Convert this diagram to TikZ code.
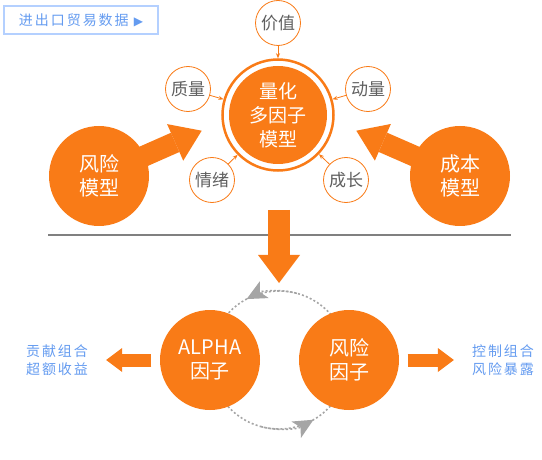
\documentclass[tikz,border=0pt]{standalone}
\usepackage{fontspec}
\setmainfont{Noto Sans CJK SC}
\newfontfamily\spacedfont[LetterSpace=14]{Noto Sans CJK SC}
\newfontfamily\symfont{DejaVu Sans}
\usetikzlibrary{arrows.meta, backgrounds}

\definecolor{factororange}{RGB}{249,123,23}
\definecolor{labelgrey}{RGB}{95,95,95}
\definecolor{noteblue}{RGB}{100,155,240}
\definecolor{tagblue}{RGB}{180,208,255}
\definecolor{cyclegrey}{RGB}{165,165,165}
\definecolor{rulegrey}{RGB}{128,128,128}

\begin{document}
\begin{tikzpicture}[
    x=1pt, y=-1pt,
    >=Stealth,
    every node/.style={font=\fontsize{17}{20}\selectfont},
    smallfactor/.style={circle, draw=factororange, line width=0.8pt, fill=white,
        minimum size=45pt, inner sep=0pt, text=labelgrey},
    bigmodel/.style={circle, fill=factororange, minimum size=100pt, inner sep=0pt,
        text=white, align=center, font=\fontsize{20}{24}\selectfont},
    feed/.style={draw=factororange, line width=0.8pt, -{Stealth[length=5pt,width=4pt]}},
    fatarrow/.style={draw=factororange, line width=21pt,
        -{Triangle[length=29pt,width=40pt,line width=0pt]}},
    sidearrow/.style={draw=factororange, line width=13pt,
        -{Triangle[length=16pt,width=24pt,line width=0pt]}},
    cyclearrow/.style={cyclegrey, line width=1.6pt, dash pattern=on 2pt off 2.2pt,
        -{Stealth[length=20pt,width=19pt,inset=5pt,line width=0pt]}},
    note/.style={text=noteblue, align=center, inner sep=0pt,
        font=\spacedfont\fontsize{14}{18}\selectfont},
]
\useasboundingbox (0,0) rectangle (542,460);

% === Data tag (top left) ===
\node[draw=tagblue, line width=1.2pt, text=noteblue, minimum width=154pt, minimum height=28pt,
    inner sep=0pt, font=\spacedfont\fontsize{14}{16}\selectfont] (datatag) at (81,20)
    {进出口贸易数据 {\symfont\fontsize{12}{14}\selectfont ▶}};

% === Multi-factor model ===
\node[circle, fill=factororange, minimum size=98pt, inner sep=0pt, text=white, align=center,
    font=\fontsize{19}{24}\selectfont] (quant) at (278,115) {量化\\多因子\\模型};
\node[circle, draw=factororange, line width=2.5pt, minimum size=111pt] (quantring) at (quant) {};

% Style factors
\node[smallfactor] (value) at (278,23) {价值};
\node[smallfactor] (quality) at (188,89) {质量};
\node[smallfactor] (momentum) at (368,89) {动量};
\node[smallfactor] (sentiment) at (212,180) {情绪};
\node[smallfactor] (growth) at (346,180) {成长};
\foreach \f in {value,quality,momentum,sentiment,growth}
    \draw[feed] (\f) -- (quantring);

% === Risk and cost models ===
\node[bigmodel] (riskmodel) at (99,176) {风险\\模型};
\node[bigmodel] (costmodel) at (460,176) {成本\\模型};
\coordinate (lefttip) at (201.7,130.7);
\coordinate (righttip) at (356.3,130.7);
\begin{pgfonlayer}{background}
\draw[fatarrow] (riskmodel.center) -- (lefttip);
\draw[fatarrow] (costmodel.center) -- (righttip);
\end{pgfonlayer}

% === Divider and down arrow ===
\draw[rulegrey, line width=2pt] (48,235) -- (511,235);
\coordinate (dropstart) at (279,210);
\coordinate (droptip) at (279,283);
\draw[draw=factororange, line width=21.7pt,
    -{Triangle[length=28pt,width=42pt,line width=0pt]}] (dropstart) -- (droptip);

% === Factor cycle ===
\coordinate (loop) at (279,360);
\draw[cyclegrey, line width=1.6pt, dash pattern=on 2pt off 2.2pt] (loop) circle[radius=69];
\draw[cyclearrow] (loop) ++(-75:69) arc[start angle=-75, end angle=-118, radius=69];
\draw[cyclearrow] (loop) ++(105:69) arc[start angle=105, end angle=60, radius=69];

\node[bigmodel] (alpha) at (210,360) {ALPHA\\因子};
\node[bigmodel] (riskfactor) at (349,360) {风险\\因子};

% === Outcomes ===
\node[note] (excess) at (57,360) {贡献组合\\超额收益};
\node[note] (exposure) at (503,360) {控制组合\\风险暴露};
\draw[sidearrow, shorten <=8.5pt, shorten >=18pt] (alpha) -- (excess);
\draw[sidearrow, shorten <=8.5pt, shorten >=18pt] (riskfactor) -- (exposure);

\end{tikzpicture}
\end{document}
